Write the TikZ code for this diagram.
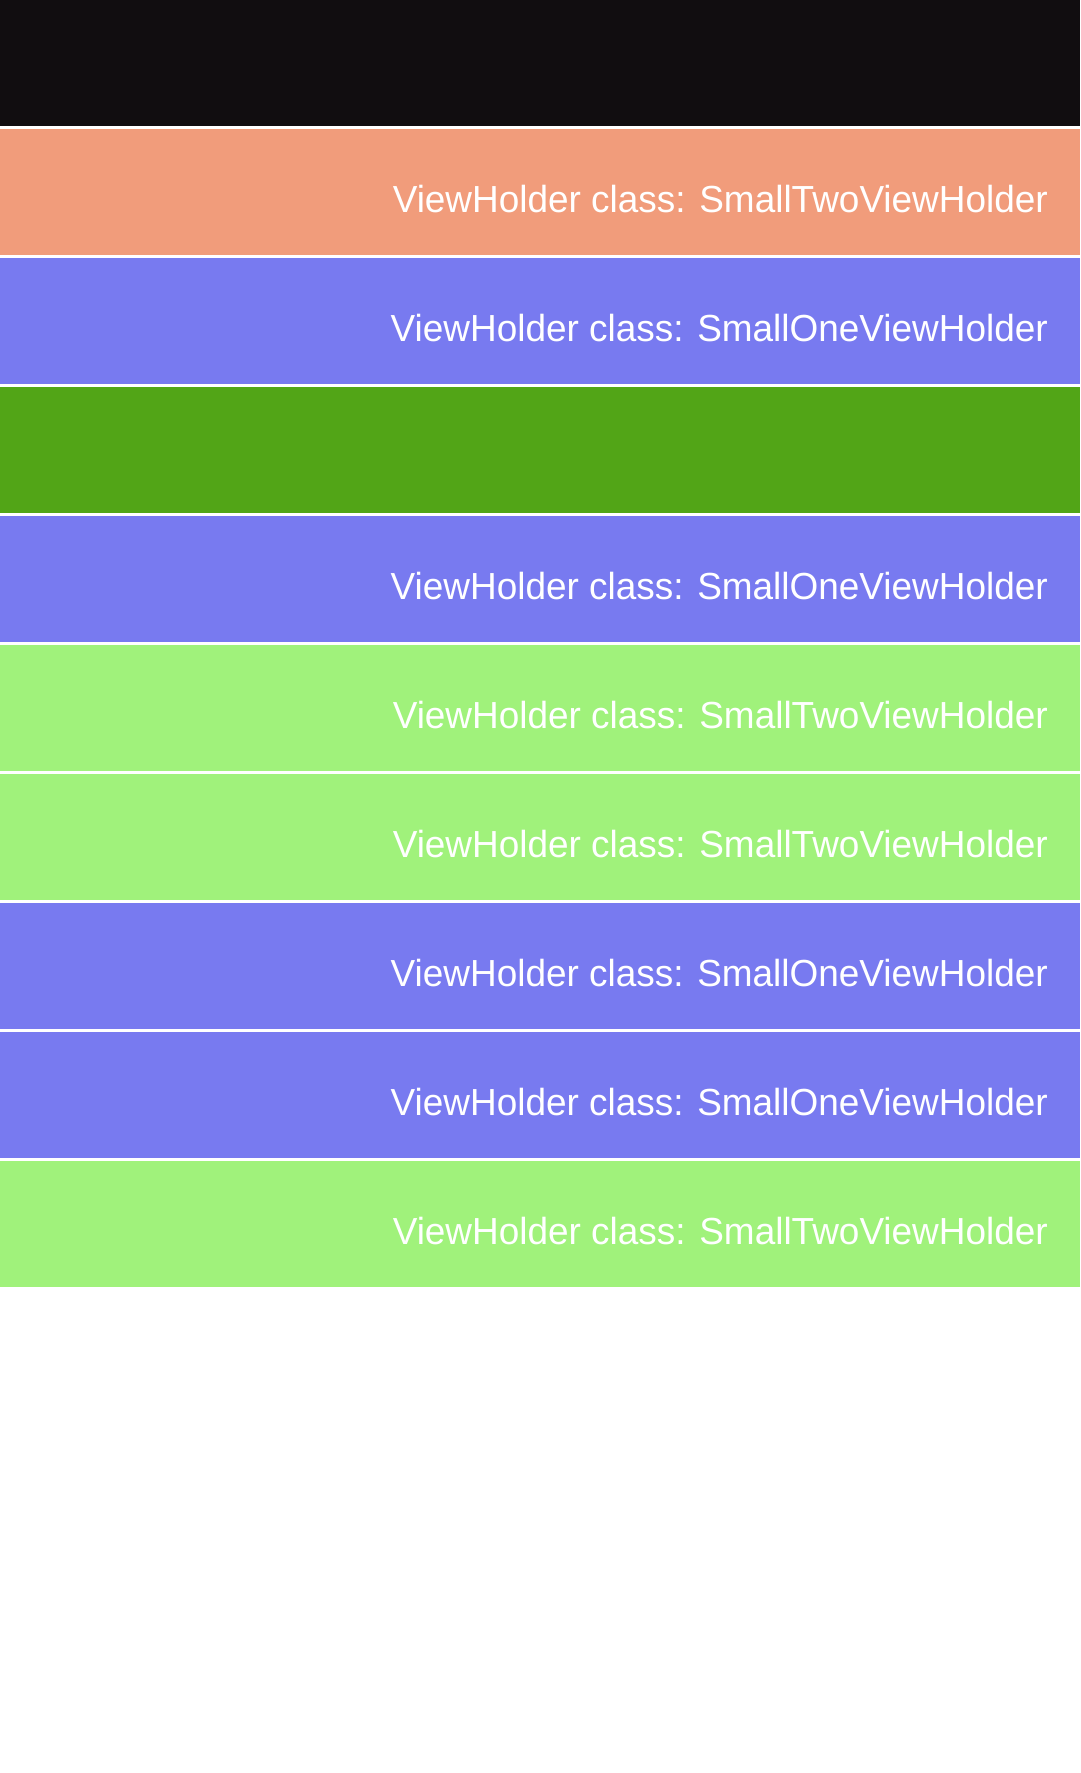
\documentclass[tikz,border=0pt]{standalone}
\usepackage{fontspec}
\setmainfont[FakeStretch=0.98]{Liberation Sans}
\definecolor{cblack}{RGB}{17,13,16}
\definecolor{corange}{RGB}{241,156,123}
\definecolor{cblue}{RGB}{120,122,240}
\definecolor{cgreen}{RGB}{82,165,23}
\definecolor{clight}{RGB}{160,242,123}
\tikzset{
  rowbox/.style={draw=none,inner sep=0pt,minimum width=1080pt,minimum height=126pt,anchor=north west},
  rowlabel/.style={text=white,inner sep=0pt,anchor=base east,font=\fontsize{37.7pt}{40pt}\selectfont}
}
\begin{document}
\begin{tikzpicture}[x=1pt,y=-1pt]
\useasboundingbox[fill=white] (0,0) rectangle (1080,1773);
\node[rowbox,fill=cblack] (r0) at (0,0) {};
\node[rowbox,fill=corange] (r1) at (0,129) {};
\node[rowbox,fill=cblue] (r2) at (0,258) {};
\node[rowbox,fill=cgreen] (r3) at (0,387) {};
\node[rowbox,fill=cblue] (r4) at (0,516) {};
\node[rowbox,fill=clight] (r5) at (0,645) {};
\node[rowbox,fill=clight] (r6) at (0,774) {};
\node[rowbox,fill=cblue] (r7) at (0,903) {};
\node[rowbox,fill=cblue] (r8) at (0,1032) {};
\node[rowbox,fill=clight] (r9) at (0,1161) {};
\node[rowlabel] (t1) at (1048,212) {ViewHolder class: SmallTwoViewHolder};
\node[rowlabel] (t2) at (1048,341) {ViewHolder class: SmallOneViewHolder};
\node[rowlabel] (t4) at (1048,599) {ViewHolder class: SmallOneViewHolder};
\node[rowlabel] (t5) at (1048,728) {ViewHolder class: SmallTwoViewHolder};
\node[rowlabel] (t6) at (1048,857) {ViewHolder class: SmallTwoViewHolder};
\node[rowlabel] (t7) at (1048,986) {ViewHolder class: SmallOneViewHolder};
\node[rowlabel] (t8) at (1048,1115) {ViewHolder class: SmallOneViewHolder};
\node[rowlabel] (t9) at (1048,1244) {ViewHolder class: SmallTwoViewHolder};
\end{tikzpicture}
\end{document}
